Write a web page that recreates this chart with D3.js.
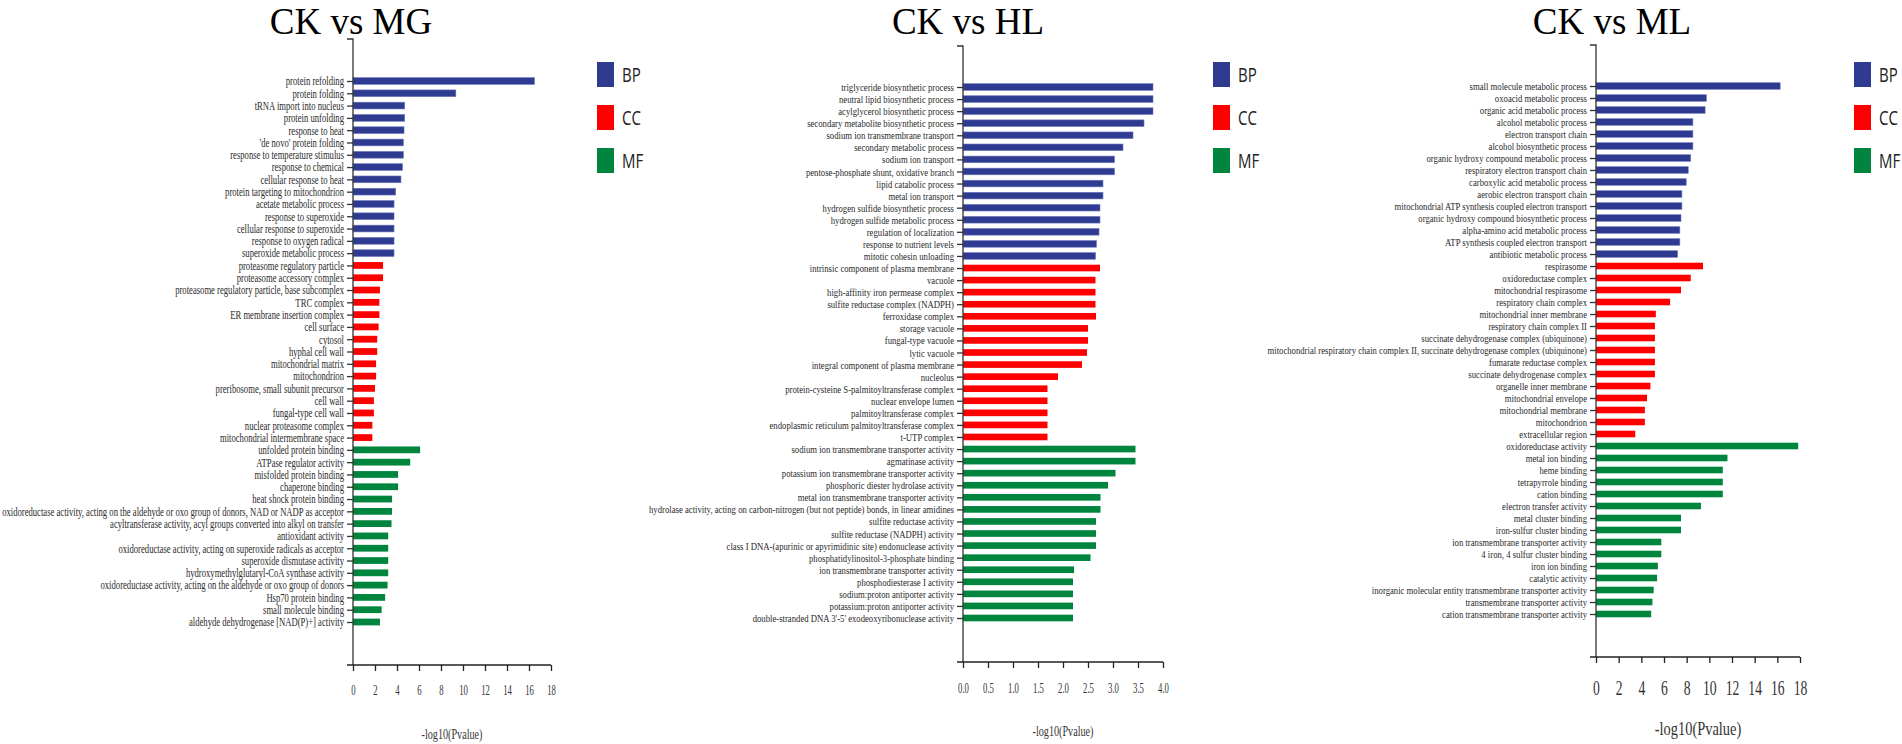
<!DOCTYPE html>
<html>
<head>
<meta charset="utf-8">
<script src="https://cdn.jsdelivr.net/npm/d3@7"></script>
<style>
  body { margin: 0; background: #fff; }
</style>
</head>
<body>
<svg id="chart" width="1902" height="744"></svg>
<script>
// ---- data ----
const categories = ["BP", "CC", "MF"];

// CK vs MG
const mgBPTerms = ["protein refolding", "protein folding", "tRNA import into nucleus", "protein unfolding",
  "response to heat", "'de novo' protein folding", "response to temperature stimulus", "response to chemical",
  "cellular response to heat", "protein targeting to mitochondrion", "acetate metabolic process",
  "response to superoxide", "cellular response to superoxide", "response to oxygen radical",
  "superoxide metabolic process"];
const mgBPValues = [16.5, 9.35, 4.7, 4.7, 4.64, 4.58, 4.58, 4.5, 4.36, 3.88, 3.73, 3.73, 3.73, 3.73, 3.73];
const mgCCTerms = ["proteasome regulatory particle", "proteasome accessory complex",
  "proteasome regulatory particle, base subcomplex", "TRC complex", "ER membrane insertion complex",
  "cell surface", "cytosol", "hyphal cell wall", "mitochondrial matrix", "mitochondrion",
  "preribosome, small subunit precursor", "cell wall", "fungal-type cell wall", "nuclear proteasome complex",
  "mitochondrial intermembrane space"];
const mgCCValues = [2.73, 2.73, 2.45, 2.4, 2.4, 2.33, 2.2, 2.2, 2.1, 2.1, 2.0, 1.9, 1.9, 1.76, 1.76];
const mgMFTerms = ["unfolded protein binding", "ATPase regulator activity", "misfolded protein binding",
  "chaperone binding", "heat shock protein binding",
  "oxidoreductase activity, acting on the aldehyde or oxo group of donors, NAD or NADP as acceptor",
  "acyltransferase activity, acyl groups converted into alkyl on transfer", "antioxidant activity",
  "oxidoreductase activity, acting on superoxide radicals as acceptor", "superoxide dismutase activity",
  "hydroxymethylglutaryl-CoA synthase activity", "oxidoreductase activity, acting on the aldehyde or oxo group of donors",
  "Hsp70 protein binding", "small molecule binding", "aldehyde dehydrogenase [NAD(P)+] activity"];
const mgMFValues = [6.1, 5.2, 4.1, 4.1, 3.55, 3.55, 3.5, 3.2, 3.2, 3.2, 3.2, 3.14, 2.92, 2.6, 2.45];

// CK vs HL
const hlBPTerms = ["triglyceride biosynthetic process", "neutral lipid biosynthetic process",
  "acylglycerol biosynthetic process", "secondary metabolite biosynthetic process",
  "sodium ion transmembrane transport", "secondary metabolic process", "sodium ion transport",
  "pentose-phosphate shunt, oxidative branch", "lipid catabolic process", "metal ion transport",
  "hydrogen sulfide biosynthetic process", "hydrogen sulfide metabolic process", "regulation of localization",
  "response to nutrient levels", "mitotic cohesin unloading"];
const hlBPValues = [3.8, 3.8, 3.8, 3.62, 3.4, 3.2, 3.03, 3.03, 2.8, 2.8, 2.74, 2.74, 2.72, 2.67, 2.65];
const hlCCTerms = ["intrinsic component of plasma membrane", "vacuole", "high-affinity iron permease complex",
  "sulfite reductase complex (NADPH)", "ferroxidase complex", "storage vacuole", "fungal-type vacuole",
  "lytic vacuole", "integral component of plasma membrane", "nucleolus",
  "protein-cysteine S-palmitoyltransferase complex", "nuclear envelope lumen", "palmitoyltransferase complex",
  "endoplasmic reticulum palmitoyltransferase complex", "t-UTP complex"];
const hlCCValues = [2.74, 2.65, 2.65, 2.65, 2.66, 2.5, 2.5, 2.48, 2.38, 1.9, 1.69, 1.69, 1.69, 1.69, 1.69];
const hlMFTerms = ["sodium ion transmembrane transporter activity", "agmatinase activity",
  "potassium ion transmembrane transporter activity", "phosphoric diester hydrolase activity",
  "metal ion transmembrane transporter activity",
  "hydrolase activity, acting on carbon-nitrogen (but not peptide) bonds, in linear amidines",
  "sulfite reductase activity", "sulfite reductase (NADPH) activity",
  "class I DNA-(apurinic or apyrimidinic site) endonuclease activity", "phosphatidylinositol-3-phosphate binding",
  "ion transmembrane transporter activity", "phosphodiesterase I activity", "sodium:proton antiporter activity",
  "potassium:proton antiporter activity", "double-stranded DNA 3'-5' exodeoxyribonuclease activity"];
const hlMFValues = [3.45, 3.45, 3.05, 2.9, 2.75, 2.75, 2.66, 2.66, 2.66, 2.55, 2.22, 2.2, 2.2, 2.2, 2.2];

// CK vs ML
const mlBPTerms = ["small molecule metabolic process", "oxoacid metabolic process", "organic acid metabolic process",
  "alcohol metabolic process", "electron transport chain", "alcohol biosynthetic process",
  "organic hydroxy compound metabolic process", "respiratory electron transport chain",
  "carboxylic acid metabolic process", "aerobic electron transport chain",
  "mitochondrial ATP synthesis coupled electron transport", "organic hydroxy compound biosynthetic process",
  "alpha-amino acid metabolic process", "ATP synthesis coupled electron transport", "antibiotic metabolic process"];
const mlBPValues = [16.25, 9.74, 9.63, 8.55, 8.55, 8.55, 8.36, 8.14, 7.96, 7.58, 7.58, 7.5, 7.4, 7.4, 7.2];
const mlCCTerms = ["respirasome", "oxidoreductase complex", "mitochondrial respirasome", "respiratory chain complex",
  "mitochondrial inner membrane", "respiratory chain complex II", "succinate dehydrogenase complex (ubiquinone)",
  "mitochondrial respiratory chain complex II, succinate dehydrogenase complex (ubiquinone)",
  "fumarate reductase complex", "succinate dehydrogenase complex", "organelle inner membrane",
  "mitochondrial envelope", "mitochondrial membrane", "mitochondrion", "extracellular region"];
const mlCCValues = [9.44, 8.36, 7.5, 6.54, 5.28, 5.2, 5.2, 5.2, 5.2, 5.2, 4.8, 4.5, 4.31, 4.31, 3.46];
const mlMFTerms = ["oxidoreductase activity", "metal ion binding", "heme binding", "tetrapyrrole binding",
  "cation binding", "electron transfer activity", "metal cluster binding", "iron-sulfur cluster binding",
  "ion transmembrane transporter activity", "4 iron, 4 sulfur cluster binding", "iron ion binding",
  "catalytic activity", "inorganic molecular entity transmembrane transporter activity",
  "transmembrane transporter activity", "cation transmembrane transporter activity"];
const mlMFValues = [17.84, 11.6, 11.19, 11.19, 11.19, 9.26, 7.5, 7.5, 5.76, 5.76, 5.46, 5.39, 5.09, 4.98, 4.87];

const mgTicks = [0, 2, 4, 6, 8, 10, 12, 14, 16, 18];
const hlTicks = [0, 0.5, 1.0, 1.5, 2.0, 2.5, 3.0, 3.5, 4.0];
const mlTicks = [0, 2, 4, 6, 8, 10, 12, 14, 16, 18];

// ---- styles ----
const colors = { BP: "#2e3b91", CC: "#ff0000", MF: "#00853e" };
const serif = "'Liberation Serif', 'Times New Roman', serif";

const panels = [
  {
    title: "CK vs MG", terms: { BP: mgBPTerms, CC: mgCCTerms, MF: mgMFTerms },
    values: { BP: mgBPValues, CC: mgCCValues, MF: mgMFValues }, ticks: mgTicks, fmt: d3.format("d"),
    x0: 353, x1: 551, yTop: 39, axisY: 665, first: 81, last: 622, titleX: 351, legendX: 597,
    labelSize: 12, labelScale: 0.72, tickFont: 15, tickScale: 0.58, tickY: 690, axisTitleY: 734, axisTitleFont: 14.5, axisTitleScale: 0.7
  },
  {
    title: "CK vs HL", terms: { BP: hlBPTerms, CC: hlCCTerms, MF: hlMFTerms },
    values: { BP: hlBPValues, CC: hlCCValues, MF: hlMFValues }, ticks: hlTicks, fmt: d3.format(".1f"),
    x0: 963, x1: 1163, yTop: 46, axisY: 662, first: 87, last: 618, titleX: 968, legendX: 1213,
    labelSize: 11, labelScale: 0.79, tickFont: 15, tickScale: 0.58, tickY: 688, axisTitleY: 731, axisTitleFont: 14.5, axisTitleScale: 0.7
  },
  {
    title: "CK vs ML", terms: { BP: mlBPTerms, CC: mlCCTerms, MF: mlMFTerms },
    values: { BP: mlBPValues, CC: mlCCValues, MF: mlMFValues }, ticks: mlTicks, fmt: d3.format("d"),
    x0: 1596, x1: 1800, yTop: 45, axisY: 657, first: 86, last: 614, titleX: 1612, legendX: 1854,
    labelSize: 11, labelScale: 0.79, tickFont: 22, tickScale: 0.62, tickY: 687, axisTitleY: 728, axisTitleFont: 19, axisTitleScale: 0.76
  }
];

const svg = d3.select("#chart");

panels.forEach(function (p) {
  // flatten rows in category order
  const rows = [];
  categories.forEach(function (c) {
    p.terms[c].forEach(function (t, i) {
      rows.push({ term: t, value: p.values[c][i], cat: c });
    });
  });

  const x = d3.scaleLinear().domain([p.ticks[0], p.ticks[p.ticks.length - 1]]).range([p.x0, p.x1]);
  const y = d3.scalePoint().domain(d3.range(rows.length)).range([p.first, p.last]);
  const barH = y.step() * 0.55;

  const g = svg.append("g");

  // title
  g.append("text")
    .attr("x", p.titleX)
    .attr("y", 34)
    .attr("text-anchor", "middle")
    .style("font-family", serif)
    .style("font-size", "37px")
    .style("fill", "#000")
    .text(p.title);

  // bars
  g.selectAll("rect.bar")
    .data(rows)
    .join("rect")
    .attr("class", "bar")
    .attr("x", x(0))
    .attr("y", (d, i) => y(i) - barH / 2)
    .attr("width", d => x(d.value) - x(0))
    .attr("height", barH)
    .style("fill", d => colors[d.cat])
    .style("stroke", d => d.cat === "BP" ? "#6d78bb" : "none")
    .style("stroke-width", 0.6);

  // y axis
  const yAxis = g.append("g")
    .attr("transform", `translate(${p.x0},0)`)
    .call(d3.axisLeft(y).tickSize(6).tickSizeOuter(0).tickFormat(i => rows[i].term));
  yAxis.select(".domain")
    .attr("d", `M-6,${p.yTop}H0V${p.axisY}`)
    .style("stroke", "#333")
    .style("stroke-width", 1.3);
  yAxis.selectAll(".tick line").style("stroke", "#333").style("stroke-width", 1.3);
  yAxis.selectAll(".tick text")
    .attr("x", -9 / p.labelScale)
    .attr("dy", "0.32em")
    .attr("transform", `scale(${p.labelScale},1)`)
    .style("font-family", serif)
    .style("font-size", p.labelSize + "px")
    .style("fill", "#2a2a2a");

  // x axis
  const xAxis = g.append("g")
    .attr("transform", `translate(0,${p.axisY})`)
    .call(d3.axisBottom(x).tickValues(p.ticks).tickSize(6).tickSizeOuter(0).tickFormat(p.fmt));
  xAxis.select(".domain")
    .attr("d", `M${p.x0 - 6},0H${p.x1}`)
    .style("stroke", "#222")
    .style("stroke-width", 1.6);
  xAxis.selectAll(".tick line").style("stroke", "#222").style("stroke-width", 1.3);
  xAxis.selectAll(".tick text")
    .attr("y", p.tickY - p.axisY)
    .attr("dy", "0.35em")
    .attr("transform", `scale(${p.tickScale},1)`)
    .style("font-family", serif)
    .style("font-size", p.tickFont + "px")
    .style("fill", "#333");

  // x axis title
  const midX = (p.x0 + p.x1) / 2;
  g.append("text")
    .attr("transform", `translate(${midX},${p.axisTitleY}) scale(${p.axisTitleScale},1)`)
    .attr("text-anchor", "middle")
    .attr("dy", "0.35em")
    .style("font-family", serif)
    .style("font-size", p.axisTitleFont + "px")
    .style("fill", "#333")
    .text("-log10(Pvalue)");

  // legend
  const legend = g.selectAll("g.legend")
    .data(categories)
    .join("g")
    .attr("class", "legend")
    .attr("transform", (d, i) => `translate(${p.legendX},${62 + i * 43})`);
  legend.append("rect")
    .attr("width", 17)
    .attr("height", 25)
    .style("fill", d => colors[d]);
  legend.append("text")
    .attr("transform", "translate(25,12.5) scale(0.75,1)")
    .attr("dy", "0.36em")
    .style("font-family", "'Open Sans', sans-serif")
    .style("font-size", "20px")
    .style("fill", "#222")
    .text(d => d);
});
</script>
</body>
</html>
